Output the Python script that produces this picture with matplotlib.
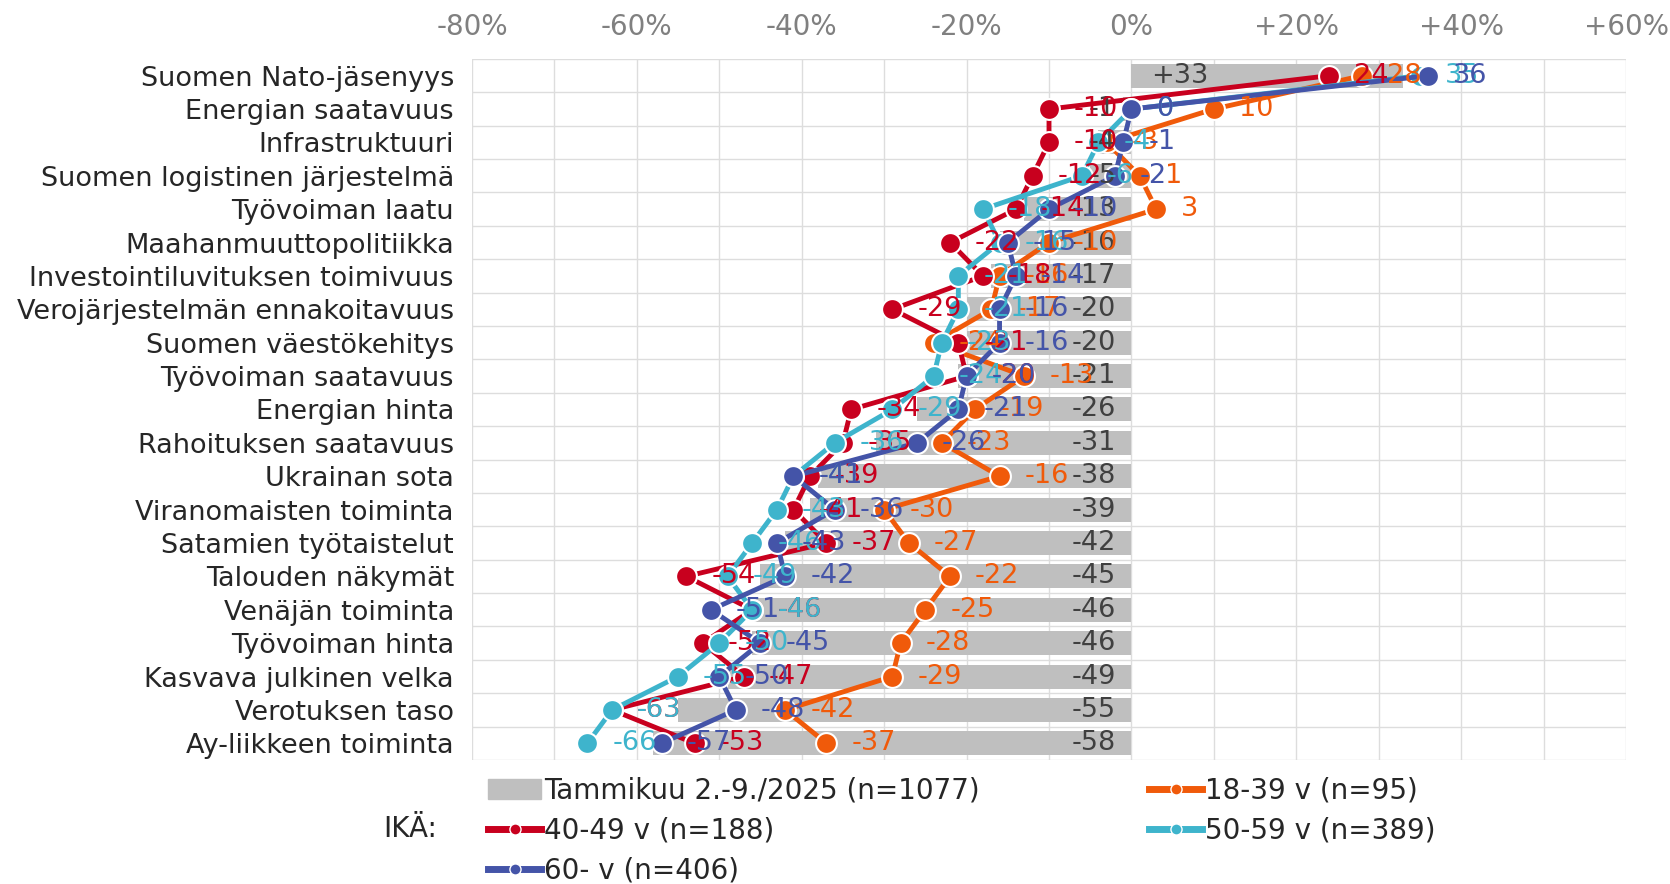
"""
Toimintaympäristön tekijät ikäryhmittäin (saldoluvut, %)
"""

import numpy as np
import matplotlib
matplotlib.use('Agg')
import matplotlib.pyplot as plt
from matplotlib.lines import Line2D
from matplotlib.patches import Patch

categories = [
  'Suomen Nato-jäsenyys', 'Energian saatavuus', 'Infrastruktuuri',
  'Suomen logistinen järjestelmä', 'Työvoiman laatu', 'Maahanmuuttopolitiikka',
  'Investointiluvituksen toimivuus', 'Verojärjestelmän ennakoitavuus',
  'Suomen väestökehitys', 'Työvoiman saatavuus', 'Energian hinta',
  'Rahoituksen saatavuus', 'Ukrainan sota', 'Viranomaisten toiminta',
  'Satamien työtaistelut', 'Talouden näkymät', 'Venäjän toiminta',
  'Työvoiman hinta', 'Kasvava julkinen velka', 'Verotuksen taso',
  'Ay-liikkeen toiminta',
]

total = [33, -1, -4, -5, -13, -16, -17, -20, -20, -21, -26, -31, -38, -39, -42,
         -45, -46, -46, -49, -55, -58]
age_18_39 = [28, 10, -3, 1, 3, -10, -16, -17, -24, -13, -19, -23, -16, -30, -27,
             -22, -25, -28, -29, -42, -37]
age_40_49 = [24, -10, -10, -12, -14, -22, -18, -29, -21, -20, -34, -35, -39, -41,
             -37, -54, -46, -52, -47, -63, -53]
age_50_59 = [35, 0, -4, -6, -18, -16, -21, -21, -23, -24, -29, -36, -41, -43, -46,
             -49, -46, -50, -55, -63, -66]
age_60 = [36, 0, -1, -2, -10, -15, -14, -16, -16, -20, -21, -26, -41, -36, -43,
          -42, -51, -45, -50, -48, -57]

total_label = 'Tammikuu 2.-9./2025 (n=1077)'
series = [
  ('18-39 v (n=95)', age_18_39, '#F05A0A'),
  ('40-49 v (n=188)', age_40_49, '#C8001E'),
  ('50-59 v (n=389)', age_50_59, '#3EB4CC'),
  ('60- v (n=406)', age_60, '#4454A8'),
]
xticks = [-80, -60, -40, -20, 0, 20, 40, 60]

plt.rcParams['font.family'] = ['DejaVu Sans']

fig = plt.figure(figsize=(16.7, 8.84), dpi=100)
ax = fig.add_axes([0.2826, 0.1403, 0.6911, 0.7930])

y = np.arange(len(categories))

# total as gray bars
ax.barh(y, total, height=0.72, color='#BFBFBF', zorder=2)
for yi, v in zip(y, total):
  if v >= 0:
    ax.annotate(f'+{v}', (0, yi), xytext=(14, 0), textcoords='offset points',
                ha='left', va='center', fontsize=19.5, color='#404040', zorder=10)
  else:
    ax.annotate(f'{v}', (0, yi), xytext=(-11, 0), textcoords='offset points',
                ha='right', va='center', fontsize=19.5, color='#404040', zorder=10)

# age groups as lines
for name, vals, col in series:
  ax.plot(vals, y, '-', color=col, lw=3.5, marker='o', markersize=15,
          markeredgecolor='white', markeredgewidth=1.5, zorder=4)
  for yi, v in zip(y, vals):
    ax.annotate(f'{v}', (v, yi), xytext=(18, 0), textcoords='offset points',
                ha='left', va='center', fontsize=19.5, color=col, zorder=10)

ax.set_xlim(-80, 60)
ax.set_ylim(len(categories) - 0.5, -0.5)

ax.xaxis.tick_top()
ax.set_xticks(xticks)
ax.set_xticklabels([f'+{t}%' if t > 0 else f'{t}%' for t in xticks])
ax.set_xticks(np.arange(-80, 61, 10), minor=True)
ax.set_yticks(y)
ax.set_yticklabels(categories)
ax.set_yticks(np.arange(-0.5, len(categories), 1), minor=True)
ax.tick_params(axis='x', which='both', length=0, pad=13, labelsize=20,
               labelcolor='#808080')
ax.tick_params(axis='y', which='both', length=0, pad=13, labelsize=19.5,
               labelcolor='#262626')
ax.grid(True, which='both', axis='x', color='#DDDDDD', lw=1, zorder=0)
ax.grid(True, which='minor', axis='y', color='#DDDDDD', lw=1, zorder=0)
ax.grid(False, which='major', axis='y')
ax.set_axisbelow(True)
for s in ax.spines.values():
  s.set_visible(False)

# legend in two columns + "IKÄ:" text
h_total = Patch(color='#BFBFBF')
h = [Line2D([0], [0], color=col, lw=5, marker='o', markersize=8,
            markeredgecolor='white', markeredgewidth=1) for _, _, col in series]
leg_kw = dict(loc='upper left', frameon=False, fontsize=20, borderpad=0,
              handlelength=1.9, handletextpad=0.1, labelspacing=0.43,
              labelcolor='#262626')
fig.legend([h_total, h[1], h[3]], [total_label, series[1][0], series[3][0]],
           bbox_to_anchor=(0.284, 0.137), **leg_kw)
fig.legend([h[0], h[2]], [series[0][0], series[2][0]],
           bbox_to_anchor=(0.680, 0.137), **leg_kw)
fig.text(0.262, 1 - 829 / 884, 'IKÄ:', ha='right', va='center', fontsize=20,
         color='#262626')

plt.savefig('out.png', dpi=100)
